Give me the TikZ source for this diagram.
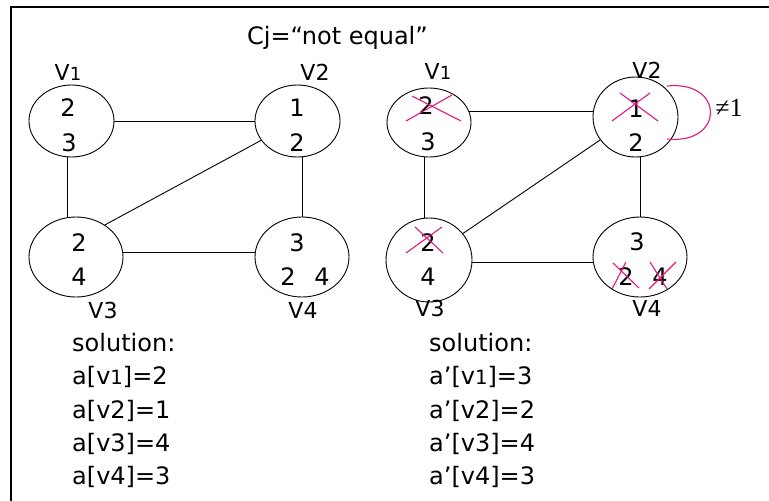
\documentclass[tikz,border=0pt]{standalone}
\usepackage{fontspec}
\setmainfont{DejaVu Sans}
\newfontfamily\serifnum{Liberation Serif}
\usetikzlibrary{shapes.geometric}
\definecolor{xpink}{RGB}{231,23,126}
\newcommand{\subone}{\scalebox{0.82}{1}}
\begin{document}
\begin{tikzpicture}[x=1pt,y=-1pt,
  vert/.style={draw, ellipse, inner sep=0pt, line width=0.9pt},
  num/.style={font=\fontsize{24}{24}\selectfont, inner sep=0pt},
  vlab/.style={font=\fontsize{22}{22}\selectfont, inner sep=0pt},
  soltext/.style={font=\fontsize{24}{24}\selectfont, inner sep=0pt, anchor=base west},
  edge/.style={line width=0.9pt},
  crossline/.style={draw=xpink, line width=1.1pt},
  frame/.style={line width=1.6pt}]
\useasboundingbox (0,0) rectangle (769,501);
% frame
\coordinate (fb) at (11,501);
\coordinate (fc) at (11,7);
\coordinate (fr) at (769,7);
\draw[frame] (fb) -- (fc) -- (fr);
% title
\node[soltext] (title) at (247,44) {Cj=“not equal”};
% ---------- left graph ----------
\node[vert, minimum width=85pt, minimum height=72pt] (L1) at (71.5,121) {};
\node[vert, minimum width=85pt, minimum height=72pt] (L2) at (297.5,121) {};
\node[vert, minimum width=94pt, minimum height=80pt] (L3) at (76,257) {};
\node[vert, minimum width=94pt, minimum height=80pt] (L4) at (302,257) {};
\draw[edge] (L1.east) -- (L2.west);
\draw[edge] (L1.-96) -- (L1.-96 |- L3.north);
\draw[edge] (L4.north |- L2.south) -- (L4.north);
\draw[edge] (L3.6) -- (L3.6 -| L4.west);
\draw[edge] (L3.48) -- (L2.208);
\node[num] (L1a) at (68,108) {2};
\node[num] (L1b) at (69,143) {3};
\node[num] (L2a) at (297,108) {1};
\node[num] (L2b) at (297,143) {2};
\node[num] (L3a) at (79,243) {2};
\node[num] (L3b) at (79,277) {4};
\node[num] (L4a) at (297,243) {3};
\node[num] (L4b) at (288,277) {2};
\node[num] (L4c) at (322,277) {4};
\node[vlab] (L1l) at (68,72) {V\subone};
\node[vlab] (L2l) at (315,72) {V2};
\node[vlab] (L3l) at (103,310) {V3};
\node[vlab] (L4l) at (303,310) {V4};
% ---------- right graph ----------
\node[vert, minimum width=84pt, minimum height=69pt] (R1) at (429,122.5) {};
\node[vert, minimum width=85pt, minimum height=80pt] (R2) at (635.5,117) {};
\node[vert, minimum width=86pt, minimum height=84pt] (R3) at (429,260) {};
\node[vert, minimum width=94pt, minimum height=80pt] (R4) at (640,257) {};
\draw[edge] (R1.15) -- (R1.15 -| R2.west);
\draw[edge] (R1.-97) -- (R1.-97 |- R3.north);
\draw[edge] (R4.north |- R2.south) -- (R4.north);
\draw[edge] (R3.-3) -- (R3.-3 -| R4.west);
\draw[edge] (R3.38) -- (R2.213);
\node[num] (R1a) at (426,106) {2};
\node[num] (R1b) at (428,142) {3};
\node[num] (R2a) at (636,109) {1};
\node[num] (R2b) at (636,143) {2};
\node[num] (R3a) at (428,243) {2};
\node[num] (R3b) at (428,277) {4};
\node[num] (R4a) at (637,242) {3};
\node[num] (R4b) at (626,277) {2};
\node[num] (R4c) at (660,277) {4};
\node[vlab] (R1l) at (438,71) {V\subone};
\node[vlab] (R2l) at (647,70) {V2};
\node[vlab] (R3l) at (430,308) {V3};
\node[vlab] (R4l) at (647,308) {V4};
% crosses
\draw[crossline] (412,96) -- (461,121);
\draw[crossline] (406,121) -- (452,95);
\draw[crossline] (612,121) -- (650,93);
\draw[crossline] (620,93) -- (658,121);
\draw[crossline] (406,253) -- (442,227);
\draw[crossline] (415,227) -- (443,253);
\draw[crossline] (612,289) -- (626,262);
\draw[crossline] (613,263) -- (639,288);
\draw[crossline] (649,289) -- (676,262);
\draw[crossline] (650,262) -- (667,289);
% self loop on V2
\coordinate (ls) at (667,86);
\coordinate (le) at (667,139);
\draw[crossline] (ls) .. controls (725,80) and (725,145) .. (le);
\node[inner sep=0pt, font=\serifnum\fontsize{26}{26}\selectfont] (ne) at (729,108) {≠1};
% ---------- solutions ----------
\node[soltext] (s1) at (72,351) {solution:};
\node[soltext] (s2) at (72,384.5) {a[v\subone]=2};
\node[soltext] (s3) at (72,418) {a[v2]=1};
\node[soltext] (s4) at (72,451) {a[v3]=4};
\node[soltext] (s5) at (72,484.5) {a[v4]=3};
\node[soltext] (t1) at (429,351) {solution:};
\node[soltext] (t2) at (429,384.5) {a’[v\subone]=3};
\node[soltext] (t3) at (429,418) {a’[v2]=2};
\node[soltext] (t4) at (429,451) {a’[v3]=4};
\node[soltext] (t5) at (429,484.5) {a’[v4]=3};
\end{tikzpicture}
\end{document}
